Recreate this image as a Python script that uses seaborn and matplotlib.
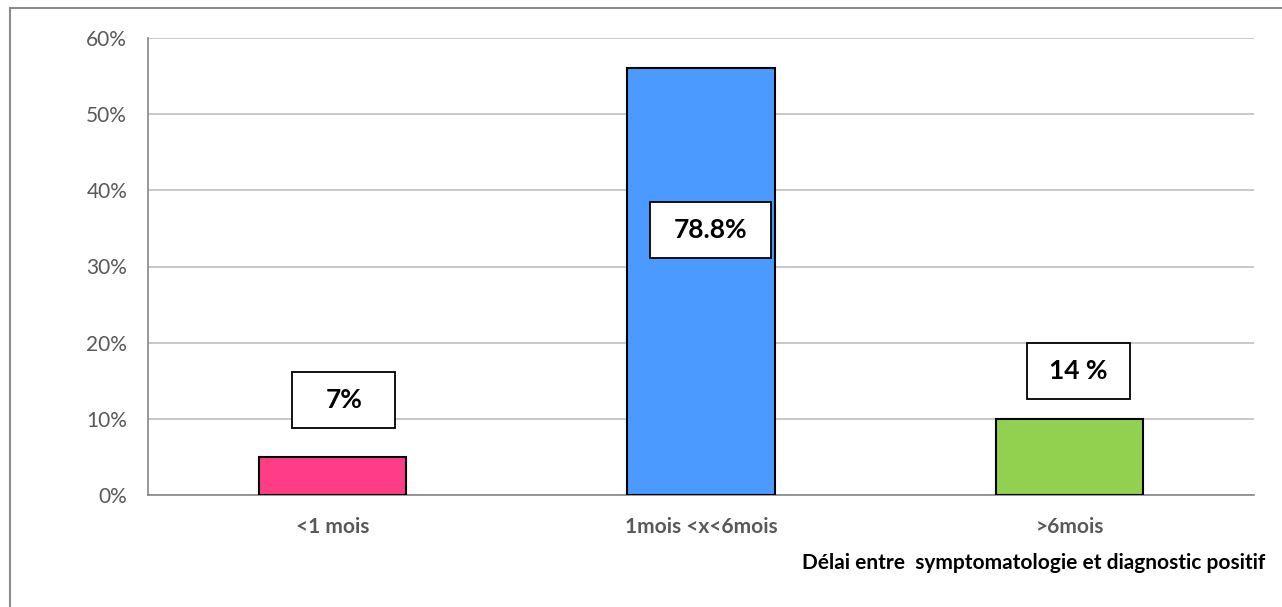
import seaborn as sns
import pandas as pd
from matplotlib import pyplot as plt
from matplotlib.patches import Rectangle

# data
categories = ["<1 mois", "1mois <x<6mois", ">6mois"]
values = [5, 56, 10]
labels = ["7%", "78.8%", "14 %"]
label_x = [0.031, 0.026, 0.024]   # offset of the label box from the bar centre
label_y = [12.5, 34.8, 16.3]
box_w = [0.28, 0.326, 0.277]      # label box sizes (category units / %)
box_h = 7.35
colors = ["#FF3D86", "#4A9AFF", "#92D050"]
yticks = [0, 10, 20, 30, 40, 50, 60]
xlabel = "Délai entre  symptomatologie et diagnostic positif"

if __name__ == "__main__":
    sns.set_style("white")
    plt.rcParams["font.family"] = ["Lato", "DejaVu Sans"]

    df = pd.DataFrame({"cat": categories, "value": values})

    fig = plt.figure(figsize=(12.82, 6.07), dpi=100)
    ax = fig.add_axes([148 / 1282, 112 / 607, 1106 / 1282, 457 / 607])

    sns.barplot(ax=ax, data=df, x="cat", y="value", hue="cat", palette=colors,
                saturation=1, width=0.4, edgecolor="black", linewidth=1.5,
                legend=False, zorder=3)

    ax.set_ylim(0, 60)
    ax.set_yticks(yticks)
    ax.set_yticklabels([f"{t}%" for t in yticks], fontsize=15, color="#595959")
    ax.tick_params(axis="y", length=0, pad=15)
    ax.tick_params(axis="x", length=0, pad=16)
    for t in ax.get_xticklabels():
        t.set_fontsize(15)
        t.set_fontweight("bold")
        t.set_color("#595959")
    ax.set_xlabel("")
    ax.set_ylabel("")
    ax.yaxis.grid(True, color="#BFBFBF", linewidth=1.2, zorder=0)
    ax.set_axisbelow(True)
    for s in ["top", "right"]:
        ax.spines[s].set_visible(False)
    ax.spines["left"].set_color("#868686")
    ax.spines["bottom"].set_color("#868686")
    ax.spines["left"].set_linewidth(1.2)
    ax.spines["bottom"].set_linewidth(1.2)

    # boxed data labels
    for i, lab in enumerate(labels):
        cx = i + label_x[i]
        cy = label_y[i]
        ax.add_patch(Rectangle((cx - box_w[i] / 2, cy - box_h / 2), box_w[i], box_h,
                               facecolor="white", edgecolor="black", linewidth=1.3,
                               zorder=5))
        ax.text(cx, cy, lab, ha="center", va="center", fontsize=19,
                fontweight="bold", color="black", zorder=6)

    fig.text(1265 / 1282, 1 - 563 / 607, xlabel, ha="right", va="center",
             fontsize=15, fontweight="bold", color="black")

    # outer chart frame (right and bottom edges cut off)
    fig.patches.append(Rectangle((10 / 1282, -0.05), 1.1, 1 - 8 / 607 + 0.05,
                                 transform=fig.transFigure, fill=False,
                                 edgecolor="#8C8C8C", linewidth=1.5))

    plt.savefig("out.png", dpi=100)
